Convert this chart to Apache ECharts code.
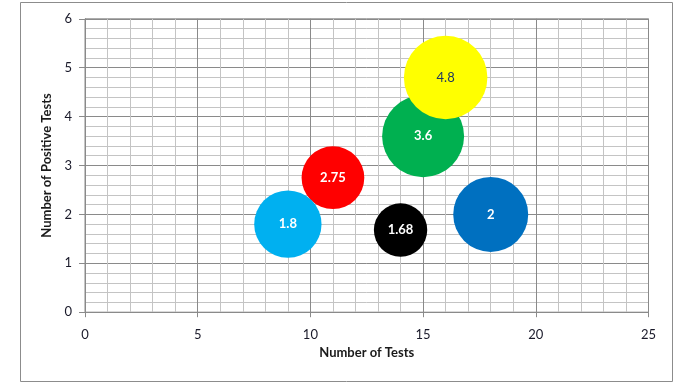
<!DOCTYPE html>
<html>
<head>
<meta charset="utf-8">
<script src="https://cdn.jsdelivr.net/npm/echarts@6/dist/echarts.min.js"></script>
<style>
html,body{margin:0;padding:0;background:#fff;}
#c{width:684px;height:390px;}
</style>
</head>
<body>
<div id="c"></div>
<script>
// Data (drawing order: later items are on top)
const xValues = [11, 9, 15, 16, 14, 18];
const yValues = [2.75, 1.8, 3.6, 4.8, 1.68, 2];
const bubbleSizes = [3.94, 4.54, 6.73, 6.98, 2.85, 5.63];
const bubbleColors = ['#FF0000', '#00B0F0', '#00B050', '#FFFF00', '#000000', '#0070C0'];
const labelColors = ['#ffffff', '#ffffff', '#ffffff', '#1F3864', '#ffffff', '#ffffff'];
const xTitle = 'Number of Tests';
const yTitle = 'Number of Positive Tests';

const font = 'Lato, "Open Sans", sans-serif';
const majorColor = '#8a8a8a';
const minorColor = '#c4c4c4';

const data = xValues.map((x, i) => ({
  value: [x, yValues[i], bubbleSizes[i]],
  itemStyle: { color: bubbleColors[i], opacity: 1 },
  label: {
    color: labelColors[i],
    fontWeight: labelColors[i] === '#ffffff' ? 'bold' : 'normal'
  }
}));

const chart = echarts.init(document.getElementById('c'), null, { renderer: 'canvas' });
chart.setOption({
  animation: false,
  backgroundColor: '#ffffff',
  textStyle: { fontFamily: font },
  graphic: [{
    type: 'rect',
    shape: { x: 20.5, y: 2.5, width: 652, height: 379 },
    style: { fill: 'none', stroke: '#8c8c8c', lineWidth: 1 },
    silent: true, z: -1
  }],
  grid: {
    left: 85, right: 35.5, top: 18.8, bottom: 77.8,
    show: true, borderColor: majorColor, borderWidth: 1, backgroundColor: 'transparent'
  },
  xAxis: {
    type: 'value', min: 0, max: 25, interval: 5,
    name: xTitle, nameLocation: 'middle', nameGap: 32,
    nameTextStyle: { fontFamily: font, fontSize: 13, fontWeight: 'bold', color: '#1a1a1a' },
    axisLine: { show: true, lineStyle: { color: majorColor, width: 1 } },
    axisTick: { show: true, inside: false, length: 5, lineStyle: { color: majorColor } },
    axisLabel: { fontFamily: font, fontSize: 13, color: '#1a1a2a', margin: 16 },
    splitLine: { show: true, lineStyle: { color: majorColor, width: 1 } },
    minorTick: { show: false, splitNumber: 5 },
    minorSplitLine: { show: true, lineStyle: { color: minorColor, width: 1 } }
  },
  yAxis: {
    type: 'value', min: 0, max: 6, interval: 1,
    name: yTitle, nameLocation: 'middle', nameGap: 30, nameRotate: 90,
    nameTextStyle: { fontFamily: font, fontSize: 13, fontWeight: 'bold', color: '#1a1a1a' },
    axisLine: { show: true, lineStyle: { color: majorColor, width: 1 } },
    axisTick: { show: true, inside: false, length: 6, lineStyle: { color: majorColor } },
    axisLabel: { fontFamily: font, fontSize: 13, color: '#1a1a2a', margin: 13 },
    splitLine: { show: true, lineStyle: { color: majorColor, width: 1 } },
    minorTick: { show: false, splitNumber: 5 },
    minorSplitLine: { show: true, lineStyle: { color: minorColor, width: 1 } }
  },
  series: [{
    type: 'scatter',
    data: data,
    symbol: 'circle',
    symbolSize: function (v) { return 31.6 * Math.sqrt(v[2]); },
    label: {
      show: true, position: 'inside',
      fontFamily: font, fontSize: 13,
      formatter: function (p) { return String(p.value[1]); }
    },
    emphasis: { disabled: true }
  }]
});
</script>
</body>
</html>
